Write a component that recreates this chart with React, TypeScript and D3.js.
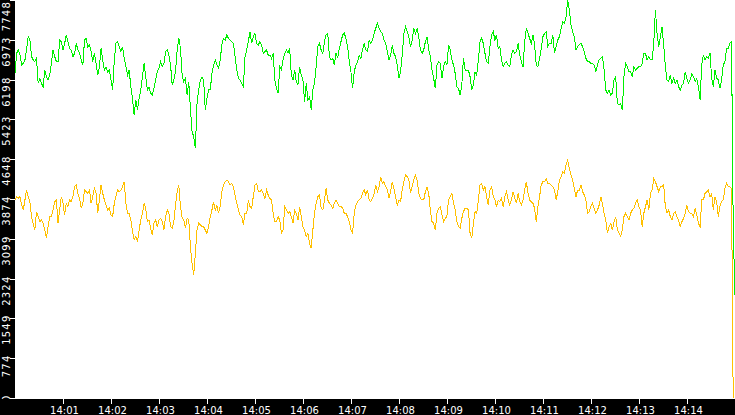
import { useEffect, useRef } from "react";
import * as d3 from "d3";

// sampled every ~2s from 14:00:00; the feed drops to the floor on the last sample
const greenSeries = [
  6320, 6710, 6775, 6677, 6483, 6515, 6580, 6775, 7034, 6969,
  6645, 6580, 6548, 6612, 6126, 6223, 6126, 6061, 6385, 6255,
  6191, 6288, 6515, 6775, 6645, 6548, 6548, 6969, 6937, 6775,
  6904, 7067, 6937, 6807, 6775, 6645, 6710, 6904, 6775, 6710,
  6580, 6483, 6969, 7002, 6840, 6872, 6742, 6548, 6710, 6515,
  6288, 6450, 6807, 6580, 6385, 6450, 6353, 6385, 6191, 5996,
  6580, 6904, 6937, 6840, 6742, 6840, 6612, 6450, 6288, 6385,
  6061, 5834, 5509, 5801, 5607, 5834, 5996, 6255, 6515, 6255,
  5996, 6061, 5931, 5899, 6028, 6191, 6353,
  6418, 6548, 6450, 6515, 6742, 6775, 6677, 6483, 6093, 6191,
  6353, 6775, 7002, 6807, 6288, 6158, 6223, 5899, 6158, 5639,
  5185, 5088, 4860, 5736, 5996, 6191, 6255, 6191, 5607, 5834,
  5996, 5996, 6320, 6483, 6580, 6483, 6418, 6580, 6872, 7002,
  6969, 7067, 7002, 6969, 6937, 6904, 6645, 6385, 6223, 6191,
  6126, 6061, 6645, 6775, 6937, 7132, 6904, 7034, 7099, 6904,
  6872, 6937, 6872, 6710, 6742, 6775, 6677, 6677, 6612, 6710,
  6191, 6028, 5931, 6450, 6385, 6580, 6710, 6775, 6710, 6807,
  6288, 6191, 6385, 6158, 6093, 6450, 6288,
  6191, 5769, 6126, 5801, 5866, 5607, 5996, 6126, 6450, 6840,
  6904, 6775, 6710, 6937, 7067, 7099, 6645, 6580, 6612, 6483,
  6710, 6612, 6807, 6937, 7067, 7099, 7002, 6840, 6548, 6353,
  6028, 6353, 6483, 6548, 6677, 6612, 6775, 6904, 6775, 6742,
  6969, 6904, 6969, 7099, 7196, 7294, 7196, 7132, 7099, 6969,
  6904, 6742, 6580, 6677, 6872, 6710, 6645, 6483, 6223, 6353,
  6677, 7099, 7229, 7132, 7034, 6840, 6969, 7196, 7099, 7196,
  7034, 6775, 6710, 6775, 6937, 7034, 6775, 6645, 6385, 6223,
  6028, 6483, 6548, 6515, 6223, 6450, 6548,
  6483, 6872, 6775, 6580, 6483, 6320, 6061, 6028, 5899, 6093,
  6612, 6385, 6385, 6385, 6255, 5996, 6093, 6353, 6288, 6580,
  6937, 7002, 6904, 6710, 6548, 6515, 6840, 7067, 7132, 6969,
  7067, 6807, 6840, 6580, 6450, 6515, 6548, 6483, 6450, 6677,
  6775, 6710, 6742, 6904, 6677, 6548, 6450, 6937, 7196, 7099,
  7002, 6904, 7067, 6872, 6483, 6450, 6612, 6807, 7034, 7099,
  7132, 6840, 6904, 6904, 7067, 6710, 6840, 6969, 7034, 7196,
  7326, 7294, 7424, 7748, 7553, 7261, 7132, 7034, 6775, 6840,
  6872, 6904, 6840, 6742, 6612, 6548, 6548,
  6515, 6515, 6483, 6353, 6483, 6580, 6612, 6645, 6385, 5996,
  5931, 5996, 5899, 5931, 6191, 6255, 5736, 5704, 5736, 5607,
  6255, 6515, 6450, 6353, 6353, 6255, 6450, 6385, 6418, 6450,
  6450, 6515, 6710, 6710, 6580, 6645, 6580, 6580, 6904, 7553,
  7099, 6840, 7034, 7229, 6872, 6450, 6191, 6158, 6288, 6126,
  6223, 6126, 6191, 6061, 5996, 6093, 6126, 6353, 6223, 6126,
  6191, 6320, 6255, 6158, 6223, 6061, 5801, 6483, 6677, 6580,
  6645, 6612, 6710, 6223, 6061, 6385, 6223, 6191, 6028, 6191,
  6483, 6548, 6807, 6807, 6904, 6937, 3400, 2005,
];

const amberSeries = [
  3855, 3919, 3887, 3919, 3757, 3660, 3855, 4049, 3919, 3822,
  3530, 3400, 3271, 3628, 3530, 3433, 3465, 3400, 3271, 3108,
  3335, 3530, 3530, 3660, 3822, 3855, 3400, 3660, 3919, 3790,
  3563, 3790, 3725, 3855, 3822, 3919, 4114, 4147, 3984, 3887,
  3692, 3790, 4049, 4017, 3984, 4049, 3790, 3919, 4082, 3984,
  3595, 3855, 4147, 3984, 3855, 3757, 3660, 3692, 3563, 3530,
  3790, 3919, 4049, 4017, 4049, 4114, 4211, 3790, 3595, 3595,
  3465, 3238, 3076, 3141, 3043, 3271, 3465, 3595, 3790, 3692,
  3433, 3465, 3303, 3173, 3400, 3465, 3335,
  3465, 3498, 3433, 3271, 3530, 3660, 3595, 3335, 3303, 3433,
  3757, 4017, 4147, 3725, 3498, 3465, 3303, 3498, 3465, 2946,
  2622, 2395, 2816, 3271, 3400, 3368, 3335, 3335, 3271, 3206,
  3335, 3530, 3660, 3822, 3660, 3757, 3595, 3725, 4017, 4147,
  4211, 4244, 4211, 4147, 4179, 4114, 3952, 3790, 3660, 3563,
  3530, 3368, 3595, 3595, 3855, 3725, 3692, 3919, 4147, 4179,
  4017, 4017, 4049, 3984, 3887, 4049, 3952, 3887, 3855, 3595,
  3433, 3433, 3530, 3465, 3206, 3271, 3725, 3660, 3595, 3628,
  3530, 3400, 3660, 3595, 3465, 3725, 3530,
  3335, 3271, 3141, 3206, 3011, 2914, 3271, 3595, 3790, 3919,
  3952, 3692, 3660, 3855, 4082, 3855, 3790, 3757, 3692, 3790,
  3855, 3790, 3725, 3725, 3692, 3595, 3595, 3530, 3433, 3271,
  3206, 3595, 3757, 3822, 3855, 3887, 3984, 4049, 3952, 4049,
  3855, 3822, 3887, 3984, 4147, 4017, 4114, 4309, 4179, 4211,
  4114, 4049, 3887, 4017, 4211, 4082, 3919, 3757, 3855, 3822,
  4049, 4211, 4341, 4309, 4244, 3984, 4114, 4244, 4341, 4244,
  3984, 3887, 3855, 3855, 4017, 4114, 3984, 3660, 3433, 3400,
  3271, 3595, 3692, 3725, 3563, 3433, 3498,
  3530, 3855, 3919, 3984, 3790, 3660, 3433, 3335, 3303, 3498,
  3628, 3692, 3692, 3660, 3206, 3108, 3400, 3628, 3595, 3855,
  4147, 4179, 4049, 4114, 3919, 3757, 4049, 4114, 3919, 3855,
  3725, 3855, 3822, 3887, 3725, 3919, 4017, 3855, 3757, 3855,
  4017, 3887, 3790, 3984, 3822, 3757, 3855, 4049, 4211, 3984,
  3855, 3822, 3790, 3692, 3433, 3725, 3919, 4147, 4211, 4211,
  4276, 4179, 4179, 4147, 4114, 4049, 3855, 4017, 4244, 4309,
  4406, 4374, 4536, 4633, 4471, 4341, 4244, 4082, 3919, 4049,
  4049, 4147, 4017, 3952, 3855, 3595, 3628,
  3725, 3790, 3692, 3595, 3660, 3757, 3919, 3790, 3595, 3465,
  3206, 3335, 3400, 3271, 3433, 3530, 3271, 3206, 3141, 3271,
  3530, 3595, 3530, 3465, 3595, 3660, 3692, 3790, 3855, 3725,
  3660, 3335, 3595, 3725, 3855, 3660, 3984, 4049, 4276, 4211,
  4114, 4017, 4114, 4114, 4147, 3725, 3595, 3660, 3530, 3465,
  3595, 3628, 3530, 3465, 3335, 3433, 3498, 3595, 3757, 3628,
  3595, 3595, 3530, 3692, 3563, 3400, 3335, 3855, 3855, 3984,
  4017, 4049, 3919, 3984, 3660, 3919, 3822, 3530, 3725, 3822,
  3855, 4082, 4179, 4114, 4114, 4082, 0,
];

const startTime = new Date(2024, 0, 1, 14, 0, 0);
const endTime = new Date(2024, 0, 1, 14, 15, 0);
const sampleMs = 2068.5;
const yTickCount = 10;
const xTickMinutes = d3.range(1, 15);

export default function App() {
  const ref = useRef<SVGSVGElement>(null);

  useEffect(() => {
    const width = 735;
    const height = 415;
    const margin = { top: 0, right: 0, bottom: 16, left: 15 };
    const plotBottom = height - margin.bottom;

    const svg = d3.select(ref.current);
    svg.selectAll("*").remove();

    svg.append("rect")
      .attr("width", width)
      .attr("height", height)
      .attr("fill", "black");
    svg.append("rect")
      .attr("x", margin.left)
      .attr("y", margin.top)
      .attr("width", width - margin.left - margin.right)
      .attr("height", plotBottom - margin.top)
      .attr("fill", "white");

    const yMax = d3.max(greenSeries.concat(amberSeries))!;
    const x = d3.scaleTime()
      .domain([startTime, endTime])
      .range([margin.left, width - margin.right]);
    const y = d3.scaleLinear()
      .domain([0, yMax])
      .range([plotBottom - 1, margin.top]);

    svg.append("clipPath")
      .attr("id", "plot-clip")
      .append("rect")
      .attr("x", margin.left)
      .attr("y", 0)
      .attr("width", width - margin.left)
      .attr("height", plotBottom);
    svg.append("clipPath")
      .attr("id", "yaxis-clip")
      .append("rect")
      .attr("x", 0)
      .attr("y", 0)
      .attr("width", margin.left)
      .attr("height", plotBottom);

    const line = d3.line<number>()
      .x((_, i) => x(new Date(startTime.getTime() + i * sampleMs)))
      .y(d => y(d));

    const plot = svg.append("g").attr("clip-path", "url(#plot-clip)");
    [
      { data: greenSeries, color: "#00f000" },
      { data: amberSeries, color: "#ffc000" },
    ].forEach(s => {
      plot.append("path")
        .datum(s.data)
        .attr("fill", "none")
        .attr("stroke", s.color)
        .attr("stroke-width", 1)
        .attr("shape-rendering", "crispEdges")
        .attr("d", line);
    });

    // y axis: vertical labels in the black strip
    const yTicks = d3.range(yTickCount + 1).map(i => (yMax * i) / yTickCount);
    const yAxis = svg.append("g").attr("clip-path", "url(#yaxis-clip)");
    yTicks.forEach(v => {
      const ty = Math.round(y(v)) + 0.5;
      yAxis.append("line")
        .attr("x1", 10)
        .attr("x2", margin.left)
        .attr("y1", ty)
        .attr("y2", ty)
        .attr("stroke", "white")
        .attr("shape-rendering", "crispEdges");
      yAxis.append("text")
        .attr("transform", `translate(9.5,${Math.max(ty - 4, 1)}) rotate(-90)`)
        .attr("text-anchor", "end")
        .attr("fill", "white")
        .style("font-family", "'DejaVu Sans', sans-serif")
        .style("font-size", "10px")
        .style("letter-spacing", "1.2px")
        .text(String(Math.floor(v)));
    });

    // x axis: minute ticks under the plot
    const fmt = d3.timeFormat("%H:%M");
    xTickMinutes.forEach(m => {
      const t = new Date(startTime.getTime() + m * 60000);
      const tx = Math.round(x(t)) + 0.5;
      svg.append("line")
        .attr("x1", tx)
        .attr("x2", tx)
        .attr("y1", plotBottom)
        .attr("y2", plotBottom + 5)
        .attr("stroke", "white")
        .attr("shape-rendering", "crispEdges");
      svg.append("text")
        .attr("x", tx + 1)
        .attr("y", height - 1.5)
        .attr("text-anchor", "middle")
        .attr("fill", "white")
        .style("font-family", "'DejaVu Sans', sans-serif")
        .style("font-size", "10px")
        .text(fmt(t));
    });
  }, []);

  return (
    <svg
      ref={ref}
      width={735}
      height={415}
      style={{ position: "absolute", left: 0, top: 0, display: "block" }}
    />
  );
}
